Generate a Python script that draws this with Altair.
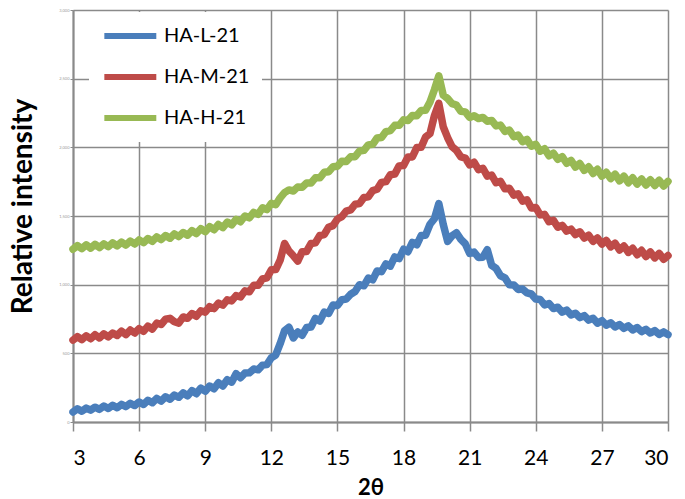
import altair as alt
import pandas as pd

# Diffraction angle grid (degrees 2θ), sampled every 0.2°
two_theta = [round(3 + 0.2 * i, 1) for i in range(136)]

ha_l_21 = [
    72, 96, 78, 101, 86, 108, 92, 116, 98, 122,
    104, 128, 112, 136, 120, 146, 128, 158, 140, 172,
    152, 184, 166, 196, 180, 212, 190, 228, 206, 246,
    224, 262, 242, 286, 262, 308, 290, 352, 322, 356,
    358, 386, 380, 414, 418, 468, 488, 570, 665, 690,
    612, 655, 632, 688, 692, 755, 735, 800, 790, 852,
    848, 890, 895, 930, 950, 1000, 992, 1048, 1035, 1100,
    1095, 1152, 1135, 1202, 1190, 1258, 1240, 1308, 1290, 1358,
    1360, 1440, 1480, 1590, 1440, 1315, 1355, 1378, 1330, 1298,
    1228, 1238, 1198, 1200, 1255, 1140, 1118, 1065, 1050, 1000,
    998, 965, 968, 940, 932, 895, 892, 852, 862, 826,
    836, 800, 815, 780, 792, 760, 775, 742, 755, 720,
    738, 705, 722, 692, 710, 682, 700, 670, 688, 658,
    675, 648, 665, 638, 656, 636,
]

ha_m_21 = [
    596, 622, 600, 628, 606, 636, 612, 642, 620, 648,
    630, 662, 636, 670, 648, 680, 660, 698, 676, 720,
    710, 748, 755, 730, 720, 765, 755, 790, 770, 810,
    800, 840, 826, 866, 850, 890, 882, 920, 910, 955,
    948, 996, 995, 1042, 1050, 1108, 1110, 1178, 1300, 1245,
    1210, 1172, 1240, 1242, 1300, 1305, 1358, 1365, 1418, 1430,
    1478, 1495, 1535, 1545, 1585, 1590, 1635, 1640, 1685, 1695,
    1745, 1750, 1800, 1805, 1865, 1868, 1930, 1930, 1998, 2000,
    2075, 2100, 2230, 2320, 2150, 2070, 2005, 1978, 1930, 1922,
    1872, 1892, 1838, 1848, 1790, 1798, 1742, 1752, 1698, 1702,
    1652, 1662, 1608, 1618, 1558, 1562, 1508, 1512, 1458, 1468,
    1418, 1432, 1390, 1405, 1365, 1385, 1340, 1360, 1315, 1340,
    1295, 1322, 1275, 1302, 1252, 1282, 1235, 1265, 1218, 1250,
    1205, 1238, 1195, 1228, 1185, 1212,
]

ha_h_21 = [
    1258, 1285, 1262, 1290, 1266, 1294, 1270, 1298, 1276, 1304,
    1282, 1310, 1288, 1318, 1296, 1326, 1306, 1336, 1316, 1348,
    1328, 1358, 1338, 1370, 1350, 1380, 1360, 1394, 1372, 1408,
    1386, 1422, 1400, 1438, 1416, 1456, 1436, 1476, 1458, 1500,
    1486, 1526, 1512, 1560, 1546, 1592, 1582, 1632, 1670, 1690,
    1682, 1712, 1710, 1740, 1740, 1778, 1778, 1818, 1822, 1858,
    1862, 1898, 1896, 1932, 1932, 1972, 1978, 2018, 2022, 2068,
    2072, 2115, 2122, 2160, 2160, 2200, 2195, 2232, 2230, 2268,
    2270, 2330, 2420, 2520, 2380, 2355, 2318, 2308, 2262, 2258,
    2218, 2230, 2210, 2218, 2190, 2196, 2156, 2162, 2116, 2126,
    2078, 2090, 2042, 2058, 2008, 2022, 1972, 1990, 1938, 1958,
    1912, 1932, 1884, 1905, 1856, 1882, 1832, 1858, 1810, 1840,
    1790, 1818, 1772, 1805, 1756, 1790, 1742, 1778, 1732, 1770,
    1726, 1764, 1722, 1760, 1718, 1752,
]

series_names = ["HA-L-21", "HA-M-21", "HA-H-21"]
series_colors = ["#4A7EBB", "#BE4B48", "#98B954"]
x_ticks = [3, 6, 9, 12, 15, 18, 21, 24, 27, 30]
y_ticks = [0, 500, 1000, 1500, 2000, 2500, 3000]

rows = []
for name, values in zip(series_names, [ha_l_21, ha_m_21, ha_h_21]):
    for t, v in zip(two_theta, values):
        rows.append({"two_theta": t, "intensity": v, "sample": name})
df = pd.DataFrame(rows)

grid_gray = "#8A8A8A"

chart = (
    alt.Chart(df)
    .mark_line(strokeWidth=7.5, strokeCap="round", strokeJoin="round")
    .encode(
        x=alt.X(
            "two_theta:Q",
            scale=alt.Scale(domain=[3, 30], nice=False, zero=False),
            axis=alt.Axis(
                values=x_ticks,
                title="2θ",
                titleFont="Lato",
                titleFontSize=22,
                titleFontWeight="bold",
                titleColor="#000000",
                titleBaseline="top",
                titleY=55,
                labelFont="Lato",
                labelFontSize=21,
                labelColor="#000000",
                labelPadding=16,
                tickSize=9,
                tickWidth=1.5,
                tickColor=grid_gray,
            ),
        ),
        y=alt.Y(
            "intensity:Q",
            scale=alt.Scale(domain=[0, 3000], nice=False),
            axis=alt.Axis(
                values=y_ticks,
                title="Relative intensity",
                titleFont="Lato",
                titleFontSize=28,
                titleFontWeight="bold",
                titleColor="#000000",
                titleAngle=270,
                titleAlign="center",
                titleBaseline="alphabetic",
                titleX=-42,
                titleY=196,
                labelFont="Lato",
                labelFontSize=4,
                labelColor="#999999",
                labelPadding=1,
                tickSize=3,
                tickWidth=1,
                tickColor=grid_gray,
            ),
        ),
        color=alt.Color(
            "sample:N",
            scale=alt.Scale(domain=series_names, range=series_colors),
            sort=series_names,
            legend=alt.Legend(
                title=None,
                orient="none",
                legendX=16,
                legendY=2,
                fillColor="#FFFFFF",
                padding=12,
                # short unit box, long stroke drawn to the right of it
                symbolType="M-1,0H5",
                symbolSize=300,
                symbolStrokeWidth=6,
                labelFont="Lato",
                labelFontSize=20,
                labelColor="#000000",
                labelOffset=39,
                rowPadding=17,
            ),
        ),
    )
    .properties(
        width=595,
        height=412,
        autosize=alt.AutoSizeParams(type="none"),
        padding={"left": 73, "top": 10, "right": 17, "bottom": 77},
    )
    .configure_view(stroke=None)
    .configure_axis(
        gridColor=grid_gray,
        gridWidth=1.5,
        domainColor=grid_gray,
        domainWidth=2,
    )
)

chart.save("out.html", embed_options={"renderer": "svg", "actions": False})
